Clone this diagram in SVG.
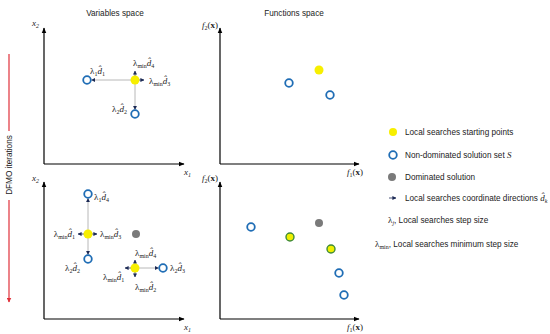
<svg xmlns="http://www.w3.org/2000/svg" width="550" height="334" viewBox="0 0 550 334">
<style>
.t{font-family:"Liberation Sans","DejaVu Sans",sans-serif;font-size:8.2px;fill:#222}
.m{font-family:"Liberation Serif","DejaVu Serif",serif;font-size:9px;fill:#222}
.i{font-style:italic}
.s{font-size:6px}
.ax{stroke:#000;stroke-width:1.2;fill:none}
.gl{stroke:#b8b8b8;stroke-width:1;fill:none}
.sa{stroke:#1c2a55;stroke-width:0.8;fill:none}
.nd{fill:#fff;stroke:#1f6db5;stroke-width:1.8}
.sp{fill:#f7ef00}
.dm{fill:#7a7a7a}
.sg{fill:#eef000;stroke:#3e8a3a;stroke-width:1.4}
</style>
<defs>
<marker id="ah" viewBox="0 0 10 10" refX="9" refY="5" markerWidth="6" markerHeight="6" markerUnits="userSpaceOnUse" orient="auto"><path d="M0,1 L10,5 L0,9 z" fill="#000"/></marker>
<marker id="nv" viewBox="0 0 10 10" refX="9" refY="5" markerWidth="4" markerHeight="4" markerUnits="userSpaceOnUse" orient="auto"><path d="M0,0 L10,5 L0,10 z" fill="#1c2a55"/></marker>
<marker id="rd" viewBox="0 0 10 10" refX="9" refY="5" markerWidth="5" markerHeight="5" markerUnits="userSpaceOnUse" orient="auto"><path d="M0,0 L10,5 L0,10 z" fill="#e0303a"/></marker>
</defs>
<rect width="550" height="334" fill="#fff"/>

<g id="iterations">
<line x1="9" y1="54" x2="9" y2="131" stroke="#e0303a" stroke-width="1.2"/>
<line x1="9" y1="200" x2="9" y2="302" stroke="#e0303a" stroke-width="1.2" marker-end="url(#rd)"/>
<text class="t" transform="translate(12,165) rotate(-90)" text-anchor="middle" font-size="8.6">DFMO iterations</text>
</g>

<g id="titles">
<text class="t" x="115" y="16" text-anchor="middle">Variables space</text>
<text class="t" x="294" y="16" text-anchor="middle">Functions space</text>
</g>

<g id="axes">
<line class="ax" x1="44" y1="164" x2="44" y2="28" marker-end="url(#ah)"/>
<line class="ax" x1="44" y1="164" x2="184" y2="164" marker-end="url(#ah)"/>
<line class="ax" x1="220" y1="164" x2="220" y2="28" marker-end="url(#ah)"/>
<line class="ax" x1="220" y1="164" x2="359" y2="164" marker-end="url(#ah)"/>
<line class="ax" x1="44" y1="319" x2="44" y2="182" marker-end="url(#ah)"/>
<line class="ax" x1="44" y1="319" x2="184" y2="319" marker-end="url(#ah)"/>
<line class="ax" x1="220" y1="319" x2="220" y2="182" marker-end="url(#ah)"/>
<line class="ax" x1="220" y1="319" x2="359" y2="319" marker-end="url(#ah)"/>
<text class="m i" x="32" y="26">x<tspan class="s" dy="1.5">2</tspan></text>
<text class="m i" x="184" y="175">x<tspan class="s" dy="1.5">1</tspan></text>
<text class="m i" x="32" y="181">x<tspan class="s" dy="1.5">2</tspan></text>
<text class="m i" x="184" y="330">x<tspan class="s" dy="1.5">1</tspan></text>
<text class="m" x="202" y="28"><tspan class="i">f</tspan><tspan class="s" dy="1.5">2</tspan><tspan dy="-1.5">(</tspan><tspan font-weight="bold">x</tspan>)</text>
<text class="m" x="347" y="175"><tspan class="i">f</tspan><tspan class="s" dy="1.5">1</tspan><tspan dy="-1.5">(</tspan><tspan font-weight="bold">x</tspan>)</text>
<text class="m" x="202" y="181"><tspan class="i">f</tspan><tspan class="s" dy="1.5">2</tspan><tspan dy="-1.5">(</tspan><tspan font-weight="bold">x</tspan>)</text>
<text class="m" x="347" y="330"><tspan class="i">f</tspan><tspan class="s" dy="1.5">1</tspan><tspan dy="-1.5">(</tspan><tspan font-weight="bold">x</tspan>)</text>
</g>

<g id="connectors">
<line class="gl" x1="135" y1="80" x2="91.5" y2="80" marker-end="url(#nv)"/>
<line class="gl" x1="135" y1="80" x2="135" y2="109.5" marker-end="url(#nv)"/>
<line class="sa" x1="135" y1="80" x2="135" y2="71" marker-end="url(#nv)"/>
<line class="sa" x1="135" y1="80" x2="144" y2="80" marker-end="url(#nv)"/>

<line class="gl" x1="88" y1="234" x2="88" y2="198.5" marker-end="url(#nv)"/>
<line class="gl" x1="88" y1="234" x2="88" y2="254.5" marker-end="url(#nv)"/>
<line class="sa" x1="88" y1="234" x2="78" y2="234" marker-end="url(#nv)"/>
<line class="sa" x1="88" y1="234" x2="97" y2="234" marker-end="url(#nv)"/>

<line class="gl" x1="135" y1="268" x2="158.5" y2="268" marker-end="url(#nv)"/>
<line class="sa" x1="135" y1="268" x2="135" y2="260" marker-end="url(#nv)"/>
<line class="sa" x1="135" y1="268" x2="135" y2="277" marker-end="url(#nv)"/>
<line class="sa" x1="135" y1="268" x2="125" y2="268" marker-end="url(#nv)"/>

<line class="sa" x1="389" y1="198" x2="396" y2="198" marker-end="url(#nv)"/>
</g>

<g id="tl-start"><circle class="sp" cx="135" cy="80" r="4.5"/></g>
<g id="tl-nd1"><circle class="nd" cx="87" cy="80" r="3.8"/></g>
<g id="tl-nd2"><circle class="nd" cx="135" cy="114" r="3.8"/></g>
<g id="tl-labels">
<text class="m" x="90" y="74">λ<tspan class="s" dy="1.5">1</tspan><tspan class="i" dy="-1.5">d̂</tspan><tspan class="s" dy="1.5">1</tspan></text>
<text class="m" x="133" y="66">λ<tspan class="s" dy="1.5">min</tspan><tspan class="i" dy="-1.5">d̂</tspan><tspan class="s" dy="1.5">4</tspan></text>
<text class="m" x="149" y="84">λ<tspan class="s" dy="1.5">min</tspan><tspan class="i" dy="-1.5">d̂</tspan><tspan class="s" dy="1.5">3</tspan></text>
<text class="m" x="112" y="112">λ<tspan class="s" dy="1.5">2</tspan><tspan class="i" dy="-1.5">d̂</tspan><tspan class="s" dy="1.5">2</tspan></text>
</g>

<g id="tr-start"><circle class="sp" cx="319" cy="70" r="4.5"/></g>
<g id="tr-nd1"><circle class="nd" cx="289" cy="83" r="3.8"/></g>
<g id="tr-nd2"><circle class="nd" cx="330" cy="95" r="3.8"/></g>

<g id="bl-start1"><circle class="sp" cx="88" cy="234" r="4.5"/></g>
<g id="bl-nd1"><circle class="nd" cx="88" cy="194" r="3.8"/></g>
<g id="bl-nd2"><circle class="nd" cx="88" cy="259" r="3.8"/></g>
<g id="bl-dom"><circle class="dm" cx="136" cy="234" r="4"/></g>
<g id="bl-start2"><circle class="sp" cx="135" cy="268" r="4.5"/></g>
<g id="bl-nd3"><circle class="nd" cx="163" cy="268" r="3.8"/></g>
<g id="bl-labels">
<text class="m" x="94" y="200">λ<tspan class="s" dy="1.5">1</tspan><tspan class="i" dy="-1.5">d̂</tspan><tspan class="s" dy="1.5">4</tspan></text>
<text class="m" x="75" y="237" text-anchor="end">λ<tspan class="s" dy="1.5">min</tspan><tspan class="i" dy="-1.5">d̂</tspan><tspan class="s" dy="1.5">1</tspan></text>
<text class="m" x="100" y="237">λ<tspan class="s" dy="1.5">min</tspan><tspan class="i" dy="-1.5">d̂</tspan><tspan class="s" dy="1.5">3</tspan></text>
<text class="m" x="65" y="271">λ<tspan class="s" dy="1.5">2</tspan><tspan class="i" dy="-1.5">d̂</tspan><tspan class="s" dy="1.5">2</tspan></text>
<text class="m" x="135" y="256">λ<tspan class="s" dy="1.5">min</tspan><tspan class="i" dy="-1.5">d̂</tspan><tspan class="s" dy="1.5">4</tspan></text>
<text class="m" x="103" y="280">λ<tspan class="s" dy="1.5">min</tspan><tspan class="i" dy="-1.5">d̂</tspan><tspan class="s" dy="1.5">1</tspan></text>
<text class="m" x="135" y="290">λ<tspan class="s" dy="1.5">min</tspan><tspan class="i" dy="-1.5">d̂</tspan><tspan class="s" dy="1.5">2</tspan></text>
<text class="m" x="170" y="271">λ<tspan class="s" dy="1.5">2</tspan><tspan class="i" dy="-1.5">d̂</tspan><tspan class="s" dy="1.5">3</tspan></text>
</g>

<g id="br-nd1"><circle class="nd" cx="251" cy="227" r="3.8"/></g>
<g id="br-start1"><circle class="sg" cx="290" cy="237" r="4"/></g>
<g id="br-dom"><circle class="dm" cx="319" cy="223" r="4"/></g>
<g id="br-start2"><circle class="sg" cx="331" cy="249" r="4"/></g>
<g id="br-nd2"><circle class="nd" cx="339" cy="273" r="3.8"/></g>
<g id="br-nd3"><circle class="nd" cx="344" cy="295" r="3.8"/></g>

<g id="legend">
<circle class="sp" cx="393" cy="132" r="4"/>
<text class="t" x="405" y="135">Local searches starting points</text>
<circle class="nd" cx="393" cy="155" r="3.8"/>
<text class="t" x="405" y="158">Non-dominated solution set <tspan class="m i">S</tspan></text>
<circle class="dm" cx="392" cy="177" r="4"/>
<text class="t" x="405" y="180">Dominated solution</text>
<text class="t" x="405" y="201">Local searches coordinate directions <tspan class="m i">d̂</tspan><tspan class="m i s" dy="1.5">k</tspan></text>
<text class="t" x="388" y="223"><tspan class="m">λ</tspan><tspan class="m i s" dy="1.5">j</tspan><tspan dy="-1.5">, Local searches step size</tspan></text>
<text class="t" x="375" y="247"><tspan class="m">λ</tspan><tspan class="m s" dy="1.5">min</tspan><tspan dy="-1.5">, Local searches minimum step size</tspan></text>
</g>
</svg>
